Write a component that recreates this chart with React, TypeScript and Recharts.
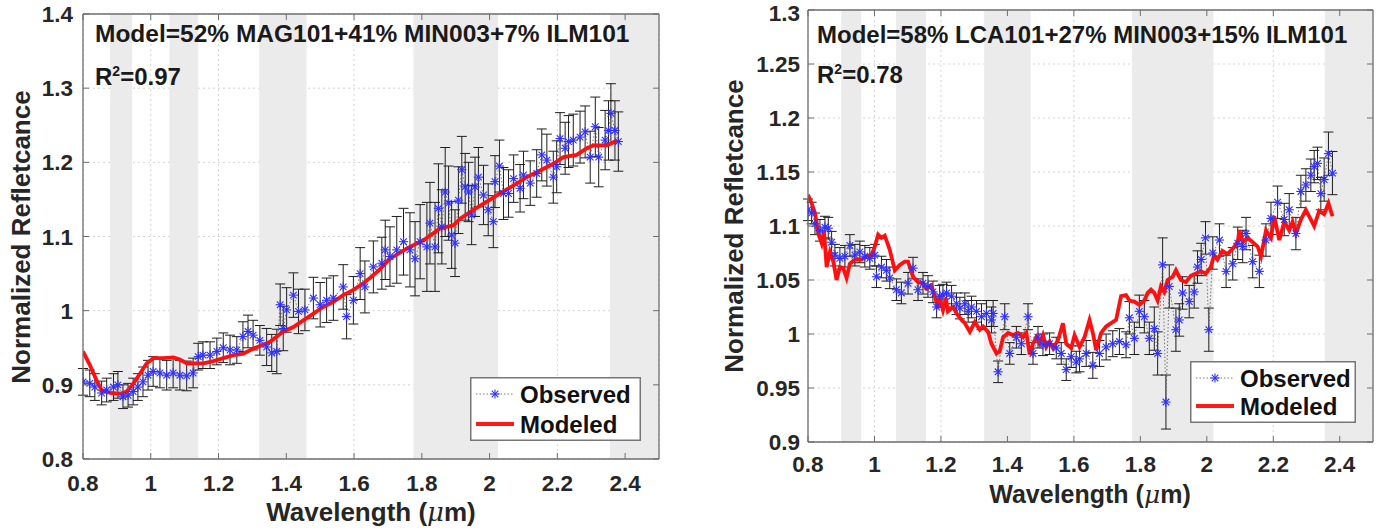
import React from 'react';
import {
  ComposedChart,
  Line,
  XAxis,
  YAxis,
  CartesianGrid,
  ReferenceArea,
  ErrorBar,
  Legend,
} from 'recharts';

// ---- left panel: observed spectrum (wavelength, reflectance, error) ----
const leftObsW = [
  0.8, 0.82, 0.835, 0.855, 0.87, 0.89, 0.903, 0.918, 0.933, 0.948, 0.962, 0.977, 0.992, 1.007, 1.027, 1.047,
  1.066, 1.086, 1.106, 1.125, 1.14, 1.154, 1.175, 1.195, 1.214, 1.234, 1.254, 1.272, 1.287, 1.302, 1.322, 1.342,
  1.357, 1.372, 1.382, 1.391, 1.401, 1.421, 1.436, 1.455, 1.48, 1.5, 1.519, 1.539, 1.568, 1.578, 1.598, 1.618,
  1.632, 1.657, 1.682, 1.692, 1.706, 1.726, 1.746, 1.765, 1.78, 1.795, 1.815, 1.824, 1.839, 1.849, 1.859, 1.869,
  1.879, 1.888, 1.898, 1.908, 1.918, 1.928, 1.938, 1.947, 1.957, 1.967, 1.982, 1.996, 2.011, 2.016, 2.029, 2.041,
  2.056, 2.071, 2.09, 2.1, 2.12, 2.139, 2.154, 2.169, 2.188, 2.198, 2.208, 2.223, 2.233, 2.247, 2.267, 2.282,
  2.297, 2.312, 2.322, 2.341, 2.351, 2.358, 2.37, 2.38,
];
const leftObsV = [
  0.904, 0.902, 0.897, 0.889, 0.893, 0.897, 0.9, 0.884, 0.886, 0.891, 0.897, 0.904, 0.913, 0.918, 0.916, 0.913,
  0.916, 0.913, 0.912, 0.916, 0.938, 0.94, 0.94, 0.945, 0.95, 0.947, 0.947, 0.965, 0.972, 0.967, 0.96, 0.951,
  0.943, 0.945, 1.008, 0.976, 1.001, 1.021, 0.999, 1.001, 1.017, 1.008, 1.014, 1.017, 1.032, 0.992, 1.014, 1.05,
  1.032, 1.059, 1.064, 1.082, 1.073, 1.082, 1.093, 1.082, 1.07, 1.093, 1.086, 1.118, 1.086, 1.138, 1.113, 1.16,
  1.145, 1.102, 1.091, 1.149, 1.19, 1.167, 1.16, 1.129, 1.167, 1.18, 1.156, 1.136, 1.12, 1.174, 1.195, 1.158,
  1.158, 1.178, 1.165, 1.183, 1.172, 1.185, 1.21, 1.203, 1.18, 1.194, 1.232, 1.219, 1.228, 1.23, 1.234, 1.241,
  1.207, 1.248, 1.207, 1.23, 1.243, 1.266, 1.243, 1.228,
];
const leftObsE = [
  0.018, 0.018, 0.018, 0.016, 0.016, 0.018, 0.018, 0.016, 0.016, 0.018, 0.018, 0.02, 0.02, 0.02, 0.02, 0.02,
  0.02, 0.02, 0.02, 0.02, 0.018, 0.018, 0.018, 0.018, 0.02, 0.02, 0.018, 0.02, 0.022, 0.02, 0.02, 0.025,
  0.025, 0.03, 0.028, 0.03, 0.03, 0.03, 0.03, 0.028, 0.028, 0.03, 0.03, 0.03, 0.03, 0.03, 0.032, 0.035,
  0.035, 0.035, 0.035, 0.04, 0.04, 0.045, 0.045, 0.05, 0.05, 0.05, 0.06, 0.055, 0.06, 0.06, 0.05, 0.06,
  0.05, 0.045, 0.045, 0.045, 0.045, 0.045, 0.04, 0.04, 0.04, 0.04, 0.04, 0.035, 0.035, 0.035, 0.035, 0.035,
  0.032, 0.032, 0.032, 0.032, 0.03, 0.032, 0.035, 0.035, 0.035, 0.035, 0.035, 0.035, 0.035, 0.035, 0.035, 0.035,
  0.035, 0.04, 0.04, 0.04, 0.04, 0.04, 0.04, 0.04,
];
const leftModW = [
  0.8, 0.82, 0.84, 0.855, 0.88, 0.909, 0.929, 0.949, 0.968, 0.988, 1.008, 1.037, 1.067, 1.086, 1.106, 1.126,
  1.155, 1.185, 1.214, 1.244, 1.273, 1.303, 1.332, 1.352, 1.372, 1.391, 1.421, 1.45, 1.48, 1.509, 1.539, 1.568,
  1.598, 1.627, 1.647, 1.672, 1.706, 1.756, 1.805, 1.854, 1.893, 1.913, 1.952, 1.992, 2.031, 2.071, 2.11, 2.149,
  2.188, 2.218, 2.257, 2.287, 2.307, 2.346, 2.37, 2.375,
];
const leftModV = [
  0.945, 0.927, 0.906, 0.893, 0.889, 0.888, 0.891, 0.902, 0.915, 0.929, 0.936, 0.936, 0.937, 0.934, 0.929, 0.929,
  0.929, 0.932, 0.936, 0.94, 0.942, 0.949, 0.954, 0.958, 0.965, 0.972, 0.978, 0.987, 0.996, 1.005, 1.012, 1.021,
  1.028, 1.037, 1.044, 1.054, 1.07, 1.084, 1.095, 1.111, 1.115, 1.124, 1.136, 1.147, 1.158, 1.169, 1.18, 1.189,
  1.198, 1.207, 1.21, 1.219, 1.223, 1.223, 1.228, 1.23,
];

// ---- right panel ----
const rightObsW = [
  0.8, 0.811, 0.821, 0.836, 0.851, 0.861, 0.871, 0.881, 0.896, 0.911, 0.926, 0.941, 0.956, 0.971, 0.986, 1.001,
  1.006, 1.021, 1.036, 1.046, 1.066, 1.081, 1.101, 1.116, 1.131, 1.146, 1.161, 1.176, 1.187, 1.196, 1.206, 1.217,
  1.232, 1.247, 1.257, 1.272, 1.282, 1.292, 1.307, 1.322, 1.337, 1.352, 1.357, 1.372, 1.392, 1.407, 1.427, 1.442,
  1.462, 1.477, 1.492, 1.507, 1.527, 1.547, 1.562, 1.577, 1.592, 1.607, 1.617, 1.637, 1.657, 1.677, 1.697, 1.717,
  1.737, 1.757, 1.767, 1.782, 1.797, 1.812, 1.827, 1.842, 1.852, 1.867, 1.877, 1.887, 1.907, 1.917, 1.927, 1.947,
  1.962, 1.972, 1.983, 1.996, 2.006, 2.018, 2.038, 2.058, 2.078, 2.093, 2.108, 2.118, 2.138, 2.158, 2.178, 2.193,
  2.213, 2.233, 2.248, 2.268, 2.283, 2.298, 2.313, 2.323, 2.333, 2.343, 2.353, 2.366, 2.378,
];
const rightObsV = [
  1.115, 1.112, 1.102, 1.096, 1.099, 1.098, 1.085, 1.073, 1.07, 1.072, 1.082, 1.073, 1.076, 1.072, 1.07, 1.073,
  1.053, 1.062, 1.059, 1.052, 1.041, 1.038, 1.047, 1.061, 1.041, 1.047, 1.044, 1.039, 1.025, 1.035, 1.036, 1.038,
  1.035, 1.028, 1.024, 1.028, 1.021, 1.025, 1.021, 1.016, 1.019, 1.013, 1.019, 0.965, 1.016, 0.982, 0.997, 0.991,
  1.016, 0.982, 0.997, 0.99, 0.991, 0.987, 0.982, 0.967, 0.979, 0.974, 0.977, 0.982, 0.971, 0.982, 0.988, 0.991,
  0.993, 0.99, 1.015, 0.996, 1.021, 1.016, 0.996, 1.005, 0.982, 1.064, 0.937, 1.044, 1.004, 1.013, 1.038, 1.03,
  1.039, 1.062, 1.069, 1.089, 1.004, 1.075, 1.087, 1.058, 1.065, 1.084, 1.081, 1.093, 1.067, 1.058, 1.087, 1.107,
  1.122, 1.106, 1.115, 1.093, 1.132, 1.138, 1.147, 1.155, 1.158, 1.13, 1.143, 1.167, 1.149,
];
const rightObsE = [
  0.01, 0.01, 0.01, 0.01, 0.01, 0.01, 0.01, 0.01, 0.01, 0.01, 0.01, 0.01, 0.01, 0.01, 0.01, 0.01,
  0.01, 0.01, 0.01, 0.01, 0.01, 0.01, 0.01, 0.01, 0.01, 0.01, 0.01, 0.01, 0.01, 0.01, 0.01, 0.01,
  0.01, 0.01, 0.01, 0.01, 0.01, 0.01, 0.01, 0.012, 0.012, 0.012, 0.012, 0.01, 0.012, 0.01, 0.01, 0.01,
  0.012, 0.01, 0.01, 0.01, 0.01, 0.01, 0.01, 0.01, 0.01, 0.01, 0.012, 0.012, 0.012, 0.012, 0.012, 0.012,
  0.012, 0.012, 0.015, 0.015, 0.015, 0.015, 0.015, 0.02, 0.02, 0.025, 0.025, 0.02, 0.02, 0.015, 0.015, 0.015,
  0.015, 0.015, 0.015, 0.015, 0.02, 0.015, 0.015, 0.015, 0.015, 0.015, 0.015, 0.015, 0.015, 0.015, 0.015, 0.015,
  0.015, 0.015, 0.015, 0.015, 0.015, 0.015, 0.015, 0.015, 0.015, 0.015, 0.02, 0.02, 0.02,
];
const rightModW = [
  0.8, 0.811, 0.821, 0.831, 0.841, 0.848, 0.856, 0.866, 0.876, 0.886, 0.896, 0.906, 0.916, 0.926, 0.941, 0.961,
  0.976, 0.991, 1.001, 1.011, 1.021, 1.031, 1.046, 1.061, 1.076, 1.091, 1.101, 1.116, 1.131, 1.146, 1.156, 1.171,
  1.181, 1.191, 1.196, 1.206, 1.215, 1.221, 1.237, 1.247, 1.262, 1.272, 1.287, 1.302, 1.317, 1.327, 1.342, 1.352,
  1.367, 1.377, 1.387, 1.402, 1.417, 1.432, 1.447, 1.457, 1.467, 1.477, 1.487, 1.497, 1.507, 1.517, 1.527, 1.537,
  1.552, 1.567, 1.577, 1.592, 1.602, 1.617, 1.632, 1.647, 1.657, 1.667, 1.682, 1.697, 1.712, 1.727, 1.742, 1.757,
  1.767, 1.782, 1.797, 1.812, 1.822, 1.832, 1.842, 1.852, 1.862, 1.872, 1.882, 1.897, 1.907, 1.922, 1.937, 1.952,
  1.967, 1.982, 1.997, 2.012, 2.022, 2.032, 2.047, 2.062, 2.078, 2.093, 2.098, 2.108, 2.123, 2.138, 2.153, 2.163,
  2.178, 2.193, 2.203, 2.218, 2.233, 2.248, 2.258, 2.268, 2.283, 2.298, 2.308, 2.323, 2.338, 2.353, 2.366, 2.378,
];
const rightModV = [
  1.129, 1.121, 1.112, 1.093, 1.084, 1.096, 1.062, 1.076, 1.067, 1.05, 1.062, 1.061, 1.052, 1.065, 1.069, 1.069,
  1.072, 1.073, 1.081, 1.092, 1.089, 1.091, 1.078, 1.059, 1.064, 1.067, 1.067, 1.053, 1.048, 1.047, 1.042, 1.045,
  1.036, 1.024, 1.033, 1.022, 1.033, 1.021, 1.025, 1.019, 1.013, 1.01, 1.002, 1.011, 1.004, 1.007, 1.002, 0.991,
  0.982, 0.984, 0.997, 1.001, 0.999, 1.001, 0.997, 1.001, 0.981, 0.991, 0.997, 0.991, 0.999, 0.988, 0.993, 0.987,
  0.994, 1.01, 0.991, 0.987, 0.999, 0.988, 0.997, 1.013, 1.001, 0.985, 1.001, 1.007, 1.01, 1.013, 1.035, 1.036,
  1.031, 1.03, 1.027, 1.031, 1.038, 1.041, 1.038, 1.031, 1.044, 1.039, 1.05, 1.053, 1.059, 1.05, 1.048, 1.054,
  1.056, 1.058, 1.056, 1.062, 1.073, 1.069, 1.077, 1.074, 1.079, 1.085, 1.096, 1.085, 1.089, 1.085, 1.081, 1.072,
  1.096, 1.089, 1.109, 1.087, 1.104, 1.096, 1.104, 1.093, 1.106, 1.115, 1.109, 1.1, 1.114, 1.111, 1.121, 1.109,
];

// telluric bands shaded in grey
const leftBands = [[0.88, 0.945], [1.055, 1.14], [1.32, 1.46], [1.775, 2.025], [2.355, 2.5]];
const rightBands = [[0.9, 0.96], [1.065, 1.155], [1.33, 1.47], [1.775, 2.02], [2.355, 2.5]];

const xTicks = [0.8, 1, 1.2, 1.4, 1.6, 1.8, 2, 2.2, 2.4];
const leftYTicks = [0.8, 0.9, 1, 1.1, 1.2, 1.3, 1.4];
const rightYTicks = [0.9, 0.95, 1, 1.05, 1.1, 1.15, 1.2, 1.25, 1.3];

const FONT = '"Liberation Sans", Arial, sans-serif';
const AX = '#6e6e6e';
const TXT = '#262626';

const fmt = (v: number) => String(Number(v.toFixed(2)));

const zipObs = (w: number[], v: number[], e: number[]) => w.map((x, i) => ({ w: x, v: v[i], e: e[i] }));
const zipMod = (w: number[], v: number[]) => w.map((x, i) => ({ w: x, v: v[i] }));

const Star = (props: any) => {
  const { cx, cy } = props;
  if (cx == null || cy == null) return <g />;
  const r = 4.6;
  const d = 3.3;
  return (
    <g stroke="#2f2fff" strokeWidth={1.1}>
      <line x1={cx - r} y1={cy} x2={cx + r} y2={cy} />
      <line x1={cx} y1={cy - r} x2={cx} y2={cy + r} />
      <line x1={cx - d} y1={cy - d} x2={cx + d} y2={cy + d} />
      <line x1={cx - d} y1={cy + d} x2={cx + d} y2={cy - d} />
    </g>
  );
};

// inward MATLAB-style ticks
const tickBottom = (dy: number) => (p: any) => (
  <g>
    <line x1={p.x} x2={p.x} y1={p.y} y2={p.y - 6} stroke={AX} />
    <text x={p.x} y={p.y + dy} textAnchor="middle" fontFamily={FONT} fontWeight="bold" fontSize={22.5} fill={TXT}>
      {fmt(p.payload.value)}
    </text>
  </g>
);
const tickTop = (p: any) => <line x1={p.x} x2={p.x} y1={p.y} y2={p.y + 6} stroke={AX} />;
const tickLeft = (dx: number) => (p: any) => (
  <g>
    <line x1={p.x} x2={p.x + 6} y1={p.y} y2={p.y} stroke={AX} />
    <text
      x={p.x - dx}
      y={Math.max(p.y + 8, 21)}
      textAnchor="end"
      fontFamily={FONT}
      fontWeight="bold"
      fontSize={22.5}
      fill={TXT}
    >
      {fmt(p.payload.value)}
    </text>
  </g>
);
const tickRight = (p: any) => <line x1={p.x} x2={p.x - 6} y1={p.y} y2={p.y} stroke={AX} />;

const LegendBox = ({ w, h }: { w: number; h: number }) => (
  <svg width={w} height={h} style={{ display: 'block' }}>
    <rect x={0.75} y={0.75} width={w - 1.5} height={h - 1.5} fill="#fff" stroke="#777" strokeWidth={1.5} />
    <line x1={6} x2={44} y1={17} y2={17} stroke="#555" strokeWidth={0.8} strokeDasharray="1.5 2" />
    <Star cx={25} cy={17} />
    <text x={50} y={26} fontFamily={FONT} fontWeight="bold" fontSize={24} fill="#111">Observed</text>
    <line x1={6} x2={44} y1={h - 17} y2={h - 17} stroke="#ff1a1a" strokeWidth={4} />
    <text x={50} y={h - 8} fontFamily={FONT} fontWeight="bold" fontSize={24} fill="#111">Modeled</text>
  </svg>
);

interface PanelProps {
  obs: { w: number; v: number; e: number }[];
  mod: { w: number; v: number }[];
  bands: number[][];
  yDomain: [number, number];
  yTicks: number[];
  width: number;
  height: number;
  margin: { top: number; left: number; right: number; bottom: number };
  legend: { left: number; top: number; w: number; h: number };
  xLabelDy: number;
  yLabelDx: number;
}

// axis sizes: bottom 30, left 60, top 2, right 2 (subtracted from the margins)
function Panel({ obs, mod, bands, yDomain, yTicks, width, height, margin, legend, xLabelDy, yLabelDx }: PanelProps) {
  const m = {
    top: margin.top - 2,
    left: margin.left - 60,
    right: margin.right - 2,
    bottom: margin.bottom - 30,
  };
  return (
    <ComposedChart width={width} height={height} margin={m}>
      <CartesianGrid stroke="#d4d4d4" strokeDasharray="2 3" />
      {bands.map(([a, b]) => (
        <ReferenceArea key={a} x1={a} x2={b} fill="#ebebeb" fillOpacity={1} stroke="none" ifOverflow="hidden" />
      ))}
      <XAxis
        dataKey="w"
        type="number"
        domain={[0.8, 2.5]}
        ticks={xTicks}
        interval={0}
        allowDataOverflow
        height={30}
        tickSize={0}
        tickMargin={0}
        tickLine={false}
        axisLine={{ stroke: AX, strokeWidth: 1.3 }}
        tick={tickBottom(xLabelDy)}
      />
      <XAxis
        xAxisId="top"
        orientation="top"
        dataKey="w"
        type="number"
        domain={[0.8, 2.5]}
        ticks={xTicks}
        interval={0}
        allowDataOverflow
        height={2}
        tickSize={0}
        tickMargin={0}
        tickLine={false}
        axisLine={{ stroke: AX, strokeWidth: 1.3 }}
        tick={tickTop}
      />
      <YAxis
        type="number"
        domain={yDomain}
        ticks={yTicks}
        interval={0}
        allowDataOverflow
        width={60}
        tickSize={0}
        tickMargin={0}
        tickLine={false}
        axisLine={{ stroke: AX, strokeWidth: 1.3 }}
        tick={tickLeft(yLabelDx)}
      />
      <YAxis
        yAxisId="right"
        orientation="right"
        type="number"
        domain={yDomain}
        ticks={yTicks}
        interval={0}
        allowDataOverflow
        width={2}
        tickSize={0}
        tickMargin={0}
        tickLine={false}
        axisLine={{ stroke: AX, strokeWidth: 1.3 }}
        tick={tickRight}
      />
      <Line
        data={obs}
        dataKey="v"
        name="Observed"
        type="linear"
        stroke="#555"
        strokeWidth={0.8}
        strokeDasharray="1.5 2"
        dot={Star}
        activeDot={false}
        isAnimationActive={false}
      >
        <ErrorBar dataKey="e" direction="y" width={5} stroke="#1e1e1e" strokeWidth={1} />
      </Line>
      <Line
        data={mod}
        dataKey="v"
        name="Modeled"
        type="linear"
        stroke="#ff1010"
        strokeWidth={3.8}
        dot={false}
        activeDot={false}
        isAnimationActive={false}
      />
      <Legend
        layout="horizontal"
        verticalAlign="middle"
        align="center"
        width={legend.w}
        height={legend.h}
        wrapperStyle={{ left: legend.left, top: legend.top, width: legend.w, height: legend.h }}
        content={() => <LegendBox w={legend.w} h={legend.h} />}
      />
    </ComposedChart>
  );
}

export default function App() {
  const t = { fontFamily: FONT, fontWeight: 'bold' as const, fill: TXT };
  return (
    <div style={{ position: 'absolute', left: 0, top: 0, width: 1384, height: 530, background: '#fff' }}>
      <div style={{ position: 'absolute', left: 0, top: 0 }}>
        <Panel
          obs={zipObs(leftObsW, leftObsV, leftObsE)}
          mod={zipMod(leftModW, leftModV)}
          bands={leftBands}
          yDomain={[0.8, 1.4]}
          yTicks={leftYTicks}
          width={680}
          height={530}
          margin={{ top: 14, left: 83, right: 21, bottom: 71 }}
          legend={{ left: 470, top: 377, w: 171, h: 64 }}
          xLabelDy={32}
          yLabelDx={10}
        />
      </div>
      <div style={{ position: 'absolute', left: 690, top: 0 }}>
        <Panel
          obs={zipObs(rightObsW, rightObsV, rightObsE)}
          mod={zipMod(rightModW, rightModV)}
          bands={rightBands}
          yDomain={[0.9, 1.3]}
          yTicks={rightYTicks}
          width={694}
          height={530}
          margin={{ top: 10, left: 118, right: 11, bottom: 88 }}
          legend={{ left: 500, top: 361, w: 166, h: 62 }}
          xLabelDy={30}
          yLabelDx={8}
        />
      </div>
      <svg width={1384} height={530} style={{ position: 'absolute', left: 0, top: 0, pointerEvents: 'none' }}>
        <text x={95} y={42} {...t} fontSize={24.5} fill="#1a1a1a">Model=52% MAG101+41% MIN003+7% ILM101</text>
        <text x={95} y={85} {...t} fontSize={24} fill="#1a1a1a">
          R<tspan fontSize={14} dy={-9}>2</tspan><tspan dy={9}>=0.97</tspan>
        </text>
        <text x={817} y={43} {...t} fontSize={24} fill="#1a1a1a">Model=58% LCA101+27% MIN003+15% ILM101</text>
        <text x={817} y={83} {...t} fontSize={24} fill="#1a1a1a">
          R<tspan fontSize={14} dy={-9}>2</tspan><tspan dy={9}>=0.78</tspan>
        </text>
        <text transform="translate(30,237) rotate(-90)" textAnchor="middle" {...t} fontSize={26}>Normalized Refletcance</text>
        <text transform="translate(743,226) rotate(-90)" textAnchor="middle" {...t} fontSize={26}>Normalized Refletcance</text>
        <text x={371} y={521} textAnchor="middle" {...t} fontSize={26}>
          Wavelength (<tspan fontStyle="italic" fontFamily="'DejaVu Serif', serif" fontWeight="normal">μ</tspan>m)
        </text>
        <text x={1090} y={503} textAnchor="middle" {...t} fontSize={25}>
          Wavelength (<tspan fontStyle="italic" fontFamily="'DejaVu Serif', serif" fontWeight="normal">μ</tspan>m)
        </text>
      </svg>
    </div>
  );
}
